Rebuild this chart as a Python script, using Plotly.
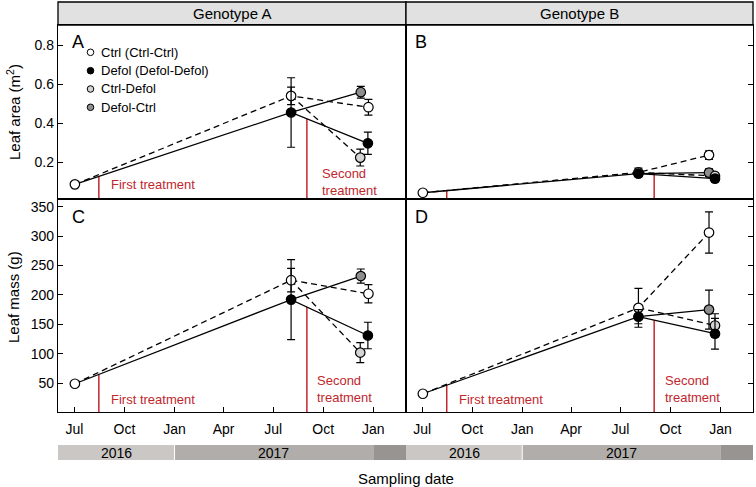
import numpy as np
import pandas as pd
import plotly.graph_objects as go

# ---------------- data ----------------
group_names = ["Ctrl (Ctrl-Ctrl)", "Defol (Defol-Defol)", "Ctrl-Defol", "Defol-Ctrl"]
genotypes = ["Genotype A", "Genotype B"]
panel_letters = ["A", "B", "C", "D"]

initial_date = "2016-07-02"
second_date = "2017-08-03"
# final sampling dates (dodged per group): Ctrl, Defol, Ctrl-Defol, Defol-Ctrl
final_dates_A = ["2017-12-23", "2017-12-22", "2017-12-08", "2017-12-09"]
final_dates_B = ["2017-12-11", "2017-12-22", "2017-12-22", "2017-12-11"]
first_treatment_date = "2016-08-15"
second_treatment_date = "2017-09-01"

# Leaf area (m2)
area_initial_A = 0.087
area_second_A = [0.54, 0.455]          # Ctrl, Defol
area_second_err_A = [0.045, 0.178]
area_final_A = [0.482, 0.297, 0.224, 0.559]   # Ctrl, Defol, Ctrl-Defol, Defol-Ctrl
area_final_err_A = [0.040, 0.057, 0.043, 0.030]

area_initial_B = 0.044
area_second_B = [0.148, 0.142]
area_second_err_B = [0.022, 0.012]
area_final_B = [0.237, 0.116, 0.130, 0.147]
area_final_err_B = [0.022, 0.018, 0.015, 0.020]

# Leaf mass (g)
mass_initial_A = 49
mass_second_A = [225, 192]
mass_second_err_A = [20, 68]
mass_final_A = [202, 131, 102, 232]
mass_final_err_A = [15.5, 22.5, 17, 12]

mass_initial_B = 32
mass_second_B = [178, 163]
mass_second_err_B = [33, 12]
mass_final_B = [306, 134, 148, 175]
mass_final_err_B = [35, 26, 20, 33]

area_ticks = [0.2, 0.4, 0.6, 0.8]
mass_ticks = [50, 100, 150, 200, 250, 300, 350]
month_tickvals = ["2016-07-01", "2016-10-01", "2017-01-01", "2017-04-01",
                  "2017-07-01", "2017-10-01", "2018-01-01"]
month_ticktext = ["Jul", "Oct", "Jan", "Apr", "Jul", "Oct", "Jan"]
years = ["2016", "2017", "2018"]
year_starts = ["2016-01-01", "2017-01-01", "2018-01-01"]

# ---------------- style ----------------
W, H = 756, 487
ML, MR, MT, MB = 58, 3, 2, 75
PW, PH = W - ML - MR, H - MT - MB
FONT = "Liberation Sans, Arial, Helvetica, sans-serif"
RED = "#c0272d"
fills = ["white", "black", "#d4d4d4", "#8e8e8e"]
dashes = ["6px,4px", "solid", "6px,4px", "solid"]
x_range = ["2016-06-01", "2018-03-02"]
area_range = [0.012, 0.903]
mass_range = [1, 363]


def px(xp):
    return (xp - ML) / PW


def py(yp):
    return (MT + PH - yp) / PH


xsplit = px(406)
ysplit = py(199)
ystrip = py(25)

fig = go.Figure()


def ts(d):
    return pd.Timestamp(d).value


def add_panel(xa, ya, init_v, sec_v, sec_e, fin_v, fin_e, fin_d, yr):
    # treatment lines up to the Defol line
    defol_x = [ts(initial_date), ts(second_date), ts(fin_d[1])]
    defol_y = [init_v, sec_v[1], fin_v[1]]
    for d in [first_treatment_date, second_treatment_date]:
        top = float(np.interp(ts(d), defol_x, defol_y))
        fig.add_trace(go.Scatter(x=[d, d], y=[yr[0], top], mode="lines",
                                 line=dict(color=RED, width=1.5),
                                 xaxis=xa, yaxis=ya, showlegend=False, hoverinfo="skip"))
    # connecting lines
    line_sets = [
        ([initial_date, second_date, fin_d[0]], [init_v, sec_v[0], fin_v[0]], dashes[0]),
        ([second_date, fin_d[2]], [sec_v[0], fin_v[2]], dashes[2]),
        ([initial_date, second_date, fin_d[1]], [init_v, sec_v[1], fin_v[1]], dashes[1]),
        ([second_date, fin_d[3]], [sec_v[1], fin_v[3]], dashes[3]),
    ]
    for xs, ys, dsh in line_sets:
        fig.add_trace(go.Scatter(x=xs, y=ys, mode="lines",
                                 line=dict(color="black", width=1.3, dash=dsh),
                                 xaxis=xa, yaxis=ya, showlegend=False, hoverinfo="skip"))
    # markers with error bars
    pts = [
        (second_date, sec_v[0], sec_e[0], fills[0]),
        (second_date, sec_v[1], sec_e[1], fills[1]),
    ]
    for i in [3, 2, 0, 1]:
        pts.append((fin_d[i], fin_v[i], fin_e[i], fills[i]))
    for d, v, e, f in pts:
        fig.add_trace(go.Scatter(
            x=[d], y=[v], mode="markers",
            marker=dict(size=9.5, color=f, line=dict(color="black", width=1.2)),
            error_y=dict(type="data", array=[e], color="black", thickness=1.2, width=4),
            xaxis=xa, yaxis=ya, showlegend=False))
    fig.add_trace(go.Scatter(
        x=[initial_date], y=[init_v], mode="markers",
        marker=dict(size=9.5, color="white", line=dict(color="black", width=1.2)),
        xaxis=xa, yaxis=ya, showlegend=False))


add_panel("x", "y", area_initial_A, area_second_A, area_second_err_A,
          area_final_A, area_final_err_A, final_dates_A, area_range)
add_panel("x2", "y2", area_initial_B, area_second_B, area_second_err_B,
          area_final_B, area_final_err_B, final_dates_B, area_range)
add_panel("x3", "y3", mass_initial_A, mass_second_A, mass_second_err_A,
          mass_final_A, mass_final_err_A, final_dates_A, mass_range)
add_panel("x4", "y4", mass_initial_B, mass_second_B, mass_second_err_B,
          mass_final_B, mass_final_err_B, final_dates_B, mass_range)

base = dict(showline=True, linecolor="black", linewidth=1.3, mirror=True,
            showgrid=False, zeroline=False, tickcolor="black", ticklen=5, tickwidth=1,
            tickfont=dict(size=14, color="black", family=FONT))
xbase = dict(base, type="date", range=x_range)

layout_axes = dict(
    xaxis=dict(xbase, domain=[0, xsplit], anchor="y", ticks="", showticklabels=False),
    xaxis2=dict(xbase, domain=[xsplit, 1], anchor="y2", ticks="", showticklabels=False),
    xaxis3=dict(xbase, domain=[0, xsplit], anchor="y3", ticks="inside",
                tickvals=month_tickvals, ticktext=month_ticktext, ticklabelstandoff=4),
    xaxis4=dict(xbase, domain=[xsplit, 1], anchor="y4", ticks="inside",
                tickvals=month_tickvals, ticktext=month_ticktext, ticklabelstandoff=4),
    yaxis=dict(base, domain=[ysplit, ystrip], anchor="x", range=area_range,
               ticks="inside", tickvals=area_ticks),
    yaxis2=dict(base, domain=[ysplit, ystrip], anchor="x2", range=area_range,
                ticks="inside", tickvals=area_ticks, side="right", showticklabels=False),
    yaxis3=dict(base, domain=[0, ysplit], anchor="x3", range=mass_range,
                ticks="inside", tickvals=mass_ticks),
    yaxis4=dict(base, domain=[0, ysplit], anchor="x4", range=mass_range,
                ticks="inside", tickvals=mass_ticks, side="right", showticklabels=False),
)

shapes = []
annotations = []

# strips
for i, (x0, x1) in enumerate([(0, xsplit), (xsplit, 1)]):
    shapes.append(dict(type="rect", xref="paper", yref="paper", x0=x0, x1=x1,
                       y0=ystrip, y1=1, fillcolor="#e1e1e1",
                       line=dict(color="black", width=1.3), layer="below"))
    annotations.append(dict(xref="paper", yref="paper", x=(x0 + x1) / 2, y=(ystrip + 1) / 2,
                            text=genotypes[i], showarrow=False,
                            font=dict(size=15, color="black", family=FONT),
                            xanchor="center", yanchor="middle"))

# year bar
year_colors = ["#cac7c5", "#b0adab", "#979492"]
yb0, yb1 = py(460), py(445)
for xa in ["x3", "x4"]:
    for k in range(3):
        x0 = max(pd.Timestamp(year_starts[k]), pd.Timestamp(x_range[0]))
        x1 = pd.Timestamp(year_starts[k + 1]) if k < 2 else pd.Timestamp(x_range[1])
        shapes.append(dict(type="rect", xref=xa, yref="paper",
                           x0=x0.strftime("%Y-%m-%d"), x1=x1.strftime("%Y-%m-%d"),
                           y0=yb0, y1=yb1, fillcolor=year_colors[k], line=dict(width=0)))
        if k < 2:
            mid = x0 + (x1 - x0) / 2
            annotations.append(dict(xref=xa, yref="paper", x=mid.strftime("%Y-%m-%d"),
                                    y=(yb0 + yb1) / 2, text=years[k], showarrow=False,
                                    font=dict(size=14, color="black", family=FONT),
                                    xanchor="center", yanchor="middle"))
    shapes.append(dict(type="line", xref=xa, yref="paper", x0=year_starts[1], x1=year_starts[1],
                       y0=yb0, y1=yb1, line=dict(color="white", width=1)))

# panel letters
letter_pos = [(70, 42), (413, 42), (70, 217), (413, 217)]
for L, (lx, ly) in zip(panel_letters, letter_pos):
    annotations.append(dict(xref="paper", yref="paper", x=px(lx), y=py(ly), text=L,
                            showarrow=False, xanchor="left", yanchor="middle",
                            font=dict(size=18, color="black", family=FONT)))

# treatment labels
for tx, ty in [(109, 185), (109, 399), (457, 399)]:
    annotations.append(dict(xref="paper", yref="paper", x=px(tx), y=py(ty),
                            text="First treatment", showarrow=False, xanchor="left",
                            yanchor="middle", font=dict(size=13, color=RED, family=FONT)))
for tx, ty in [(320, 182), (315, 389), (663, 389)]:
    annotations.append(dict(xref="paper", yref="paper", x=px(tx), y=py(ty),
                            text="Second<br>treatment", showarrow=False, xanchor="left",
                            align="left", yanchor="middle",
                            font=dict(size=13, color=RED, family=FONT)))

# legend (manual)
leg_rows = [52.3, 70.7, 89, 107.3]
for name, f, ry in zip(group_names, fills, leg_rows):
    shapes.append(dict(type="circle", xref="paper", yref="paper",
                       xsizemode="pixel", ysizemode="pixel",
                       xanchor=px(90.5), yanchor=py(ry), x0=-3.3, x1=3.3, y0=-3.3, y1=3.3,
                       fillcolor=f, line=dict(color="black", width=1)))
    annotations.append(dict(xref="paper", yref="paper", x=px(99), y=py(ry), text=name,
                            showarrow=False, xanchor="left", yanchor="middle",
                            font=dict(size=13, color="black", family=FONT)))

# axis titles
annotations.append(dict(xref="paper", yref="paper", x=px(13), y=py(112),
                        text="Leaf area (m<sup>2</sup>)", textangle=-90, showarrow=False,
                        xanchor="center", yanchor="middle",
                        font=dict(size=15, color="black", family=FONT)))
annotations.append(dict(xref="paper", yref="paper", x=px(13), y=py(297),
                        text="Leaf mass (g)", textangle=-90, showarrow=False,
                        xanchor="center", yanchor="middle",
                        font=dict(size=15, color="black", family=FONT)))
annotations.append(dict(xref="paper", yref="paper", x=px(406), y=py(479),
                        text="Sampling date", showarrow=False,
                        xanchor="center", yanchor="middle",
                        font=dict(size=15, color="black", family=FONT)))

fig.update_layout(
    width=W, height=H,
    margin=dict(l=ML, r=MR, t=MT, b=MB),
    paper_bgcolor="white", plot_bgcolor="white",
    showlegend=False,
    font=dict(family=FONT, color="black"),
    shapes=shapes, annotations=annotations,
    **layout_axes,
)

fig.write_html("out.html", config={"displayModeBar": False},
               post_script="document.body.style.margin='0px';document.body.style.padding='0px';")
